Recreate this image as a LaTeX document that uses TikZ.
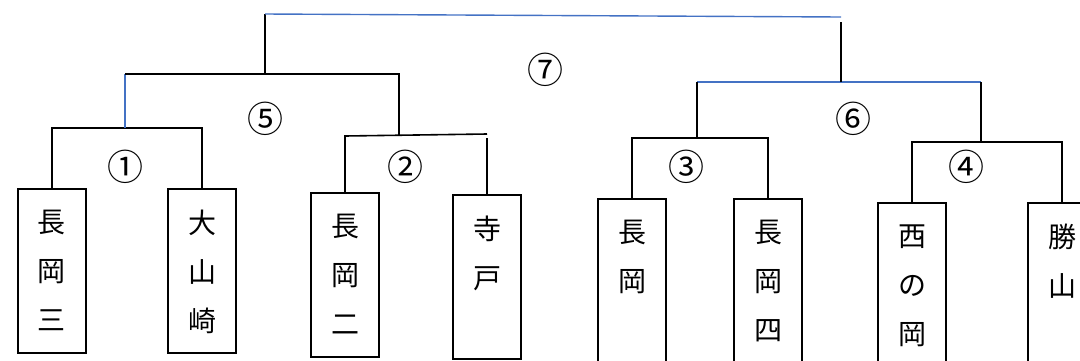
\documentclass[tikz,border=0pt]{standalone}
\usepackage{fontspec}
\setmainfont{Noto Sans CJK JP}
\usetikzlibrary{positioning}
\definecolor{wordblue}{RGB}{68,114,196}
\newcommand{\tate}[1]{\parbox[t][164pt][t]{68pt}{\centering\vspace*{21.5pt}#1}}

\begin{document}
\begin{tikzpicture}[x=1pt,y=-1pt,
    team/.style={draw=black, line width=1.6pt, anchor=north, inner sep=0pt,
        minimum width=68pt, minimum height=164pt, font=\fontsize{28pt}{49pt}\selectfont},
    round/.style={font=\fontsize{36pt}{40pt}\selectfont, inner sep=0pt},
    bracket/.style={draw=black, line width=1.6pt},
    blueedge/.style={draw=wordblue, line width=1.4pt}]
    \useasboundingbox (0,0) rectangle (1080,360);

    \node[team] (T_1) at (52,188) {\tate{長\\岡\\三}};
    \node[team] (T_2) at (202,188) {\tate{大\\山\\崎}};
    \node[team] (T_3) at (345,192) {\tate{長\\岡\\二}};
    \node[team] (T_4) at (487,194) {\tate{寺\\戸}};
    \node[team] (T_5) at (632,198) {\tate{長\\岡}};
    \node[team] (T_6) at (768,198) {\tate{長\\岡\\四}};
    \node[team] (T_7) at (912,202) {\tate{西\\の\\岡}};
    \node[team] (T_8) at (1062,202) {\tate{勝\\山}};

    \coordinate (J_1) at (125,128);
    \coordinate (J_2) at (399,135);
    \coordinate (J_3) at (697,138);
    \coordinate (J_4) at (981,142);
    \coordinate (J_5) at (265,74);
    \coordinate (J_6) at (841,82);
    \coordinate (A_2) at (345,136);
    \coordinate (B_2) at (487,134);
    \coordinate (C_2) at (487,138);
    \coordinate (F_L) at (265,14);
    \coordinate (F_R) at (841,17);
    \coordinate (F_D) at (841,22);

    \node[round] (R_1) at (125,167) {①};
    \node[round] (R_2) at (405,167) {②};
    \node[round] (R_3) at (686,167) {③};
    \node[round] (R_4) at (966,167) {④};
    \node[round] (R_5) at (265,119) {⑤};
    \node[round] (R_6) at (853,119) {⑥};
    \node[round] (R_7) at (545,70) {⑦};

    % first round
    \draw[bracket] (T_1.north) |- (J_1) -| (T_2.north);
    \draw[bracket] (T_3.north) -- (A_2) -- (B_2);
    \draw[bracket] (C_2) -- (T_4.north);
    \draw[bracket] (T_5.north) |- (J_3) -| (T_6.north);
    \draw[bracket] (T_7.north) |- (J_4) -| (T_8.north);

    % semi-finals
    \draw[blueedge] (J_1) -- (J_1 |- J_5);
    \draw[bracket] (J_1 |- J_5) -| (J_2);
    \draw[blueedge] (J_3 |- J_6) -- (J_4 |- J_6);
    \draw[bracket] (J_3 |- J_6) -- (J_3);
    \draw[bracket] (J_4 |- J_6) -- (J_4);

    % final
    \draw[bracket] (J_5) -- (F_L);
    \draw[blueedge] (F_L) -- (F_R);
    \draw[bracket] (F_D) -- (J_6);
\end{tikzpicture}
\end{document}
